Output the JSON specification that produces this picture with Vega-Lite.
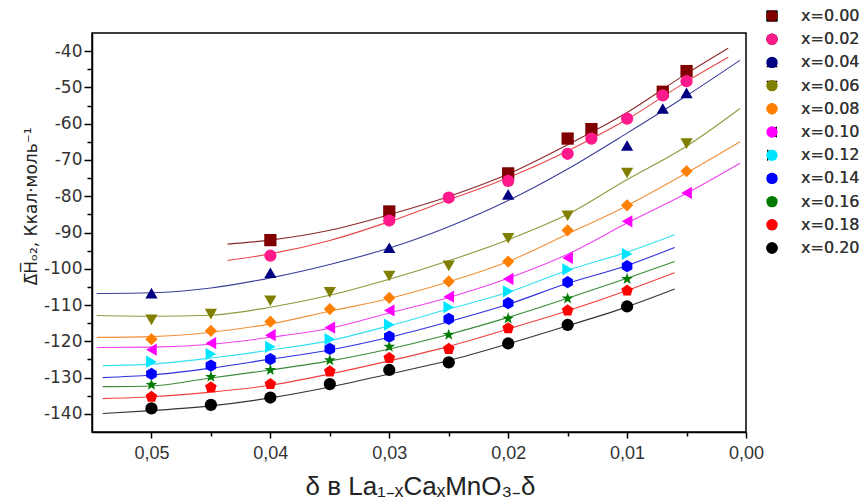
{
  "$schema": "https://vega.github.io/schema/vega-lite/v6.json",
  "width": 654,
  "height": 399,
  "autosize": "none",
  "padding": {"left": 92, "top": 33, "right": 117, "bottom": 72},
  "background": "white",
  "config": {
    "view": {"stroke": "black", "strokeWidth": 1.5},
    "font": "Liberation Sans",
    "legend": {
      "orient": "none", "legendX": 672, "legendY": -25, "title": null,
      "labelFontSize": 16, "labelFont": "DejaVu Sans", "labelColor": "#333",
      "symbolSize": 130, "labelOffset": 21, "rowPadding": 7.2, "padding": 0,
      "symbolStrokeWidth": 0
    }
  },
  "datasets": {
    "points": [
      {"series":"x=0.00","d":0.04,"H":-92.1},{"series":"x=0.00","d":0.03,"H":-84.2},{"series":"x=0.00","d":0.02,"H":-73.7},{"series":"x=0.00","d":0.015,"H":-64.1},{"series":"x=0.00","d":0.013,"H":-61.5},{"series":"x=0.00","d":0.007,"H":-51.2},{"series":"x=0.00","d":0.005,"H":-45.5},
      {"series":"x=0.02","d":0.04,"H":-96.4},{"series":"x=0.02","d":0.03,"H":-86.7},{"series":"x=0.02","d":0.025,"H":-80.4},{"series":"x=0.02","d":0.02,"H":-75.8},{"series":"x=0.02","d":0.015,"H":-68.3},{"series":"x=0.02","d":0.013,"H":-64.1},{"series":"x=0.02","d":0.01,"H":-58.6},{"series":"x=0.02","d":0.007,"H":-52.2},{"series":"x=0.02","d":0.005,"H":-48.3},
      {"series":"x=0.04","d":0.05,"H":-106.7},{"series":"x=0.04","d":0.04,"H":-101.1},{"series":"x=0.04","d":0.03,"H":-94.2},{"series":"x=0.04","d":0.02,"H":-79.5},{"series":"x=0.04","d":0.01,"H":-66.0},{"series":"x=0.04","d":0.007,"H":-55.8},{"series":"x=0.04","d":0.005,"H":-51.5},
      {"series":"x=0.06","d":0.05,"H":-114.1},{"series":"x=0.06","d":0.045,"H":-112.5},{"series":"x=0.06","d":0.04,"H":-108.8},{"series":"x=0.06","d":0.035,"H":-106.5},{"series":"x=0.06","d":0.03,"H":-102.0},{"series":"x=0.06","d":0.025,"H":-99.2},{"series":"x=0.06","d":0.02,"H":-91.6},{"series":"x=0.06","d":0.015,"H":-85.4},{"series":"x=0.06","d":0.01,"H":-73.6},{"series":"x=0.06","d":0.005,"H":-65.5},
      {"series":"x=0.08","d":0.05,"H":-119.4},{"series":"x=0.08","d":0.045,"H":-117.1},{"series":"x=0.08","d":0.04,"H":-114.6},{"series":"x=0.08","d":0.035,"H":-111.1},{"series":"x=0.08","d":0.03,"H":-108.0},{"series":"x=0.08","d":0.025,"H":-103.5},{"series":"x=0.08","d":0.02,"H":-98.0},{"series":"x=0.08","d":0.015,"H":-89.4},{"series":"x=0.08","d":0.01,"H":-82.5},{"series":"x=0.08","d":0.005,"H":-73.1},
      {"series":"x=0.10","d":0.05,"H":-122.3},{"series":"x=0.10","d":0.045,"H":-120.5},{"series":"x=0.10","d":0.04,"H":-118.3},{"series":"x=0.10","d":0.035,"H":-116.2},{"series":"x=0.10","d":0.03,"H":-111.5},{"series":"x=0.10","d":0.025,"H":-107.7},{"series":"x=0.10","d":0.02,"H":-102.8},{"series":"x=0.10","d":0.015,"H":-97.0},{"series":"x=0.10","d":0.01,"H":-86.9},{"series":"x=0.10","d":0.005,"H":-79.1},
      {"series":"x=0.12","d":0.05,"H":-125.6},{"series":"x=0.12","d":0.045,"H":-123.5},{"series":"x=0.12","d":0.04,"H":-121.5},{"series":"x=0.12","d":0.035,"H":-119.4},{"series":"x=0.12","d":0.03,"H":-115.4},{"series":"x=0.12","d":0.025,"H":-110.6},{"series":"x=0.12","d":0.02,"H":-106.2},{"series":"x=0.12","d":0.015,"H":-100.2},{"series":"x=0.12","d":0.01,"H":-95.9},
      {"series":"x=0.14","d":0.05,"H":-129.0},{"series":"x=0.14","d":0.045,"H":-126.7},{"series":"x=0.14","d":0.04,"H":-124.9},{"series":"x=0.14","d":0.035,"H":-122.1},{"series":"x=0.14","d":0.03,"H":-118.7},{"series":"x=0.14","d":0.025,"H":-113.8},{"series":"x=0.14","d":0.02,"H":-109.5},{"series":"x=0.14","d":0.015,"H":-103.7},{"series":"x=0.14","d":0.01,"H":-99.3},
      {"series":"x=0.16","d":0.05,"H":-132.0},{"series":"x=0.16","d":0.045,"H":-129.8},{"series":"x=0.16","d":0.04,"H":-127.9},{"series":"x=0.16","d":0.035,"H":-125.2},{"series":"x=0.16","d":0.03,"H":-121.5},{"series":"x=0.16","d":0.025,"H":-118.2},{"series":"x=0.16","d":0.02,"H":-113.7},{"series":"x=0.16","d":0.015,"H":-108.2},{"series":"x=0.16","d":0.01,"H":-102.8},
      {"series":"x=0.18","d":0.05,"H":-135.3},{"series":"x=0.18","d":0.045,"H":-132.7},{"series":"x=0.18","d":0.04,"H":-131.8},{"series":"x=0.18","d":0.035,"H":-128.3},{"series":"x=0.18","d":0.03,"H":-124.6},{"series":"x=0.18","d":0.025,"H":-122.1},{"series":"x=0.18","d":0.02,"H":-116.4},{"series":"x=0.18","d":0.015,"H":-111.5},{"series":"x=0.18","d":0.01,"H":-106.0},
      {"series":"x=0.20","d":0.05,"H":-138.5},{"series":"x=0.20","d":0.045,"H":-137.5},{"series":"x=0.20","d":0.04,"H":-135.5},{"series":"x=0.20","d":0.035,"H":-131.8},{"series":"x=0.20","d":0.03,"H":-127.9},{"series":"x=0.20","d":0.025,"H":-125.8},{"series":"x=0.20","d":0.02,"H":-120.6},{"series":"x=0.20","d":0.015,"H":-115.5},{"series":"x=0.20","d":0.01,"H":-110.4}
    ],
    "curves": [
      {"series":"x=0.00","d":0.0436,"H":-93.2},{"series":"x=0.00","d":0.04,"H":-92.1},{"series":"x=0.00","d":0.035,"H":-89.4},{"series":"x=0.00","d":0.03,"H":-85.1},{"series":"x=0.00","d":0.025,"H":-80.1},{"series":"x=0.00","d":0.02,"H":-73.9},{"series":"x=0.00","d":0.015,"H":-65.8},{"series":"x=0.00","d":0.01,"H":-56.9},{"series":"x=0.00","d":0.005,"H":-46.2},{"series":"x=0.00","d":0.0015,"H":-39.2},
      {"series":"x=0.02","d":0.0436,"H":-97.7},{"series":"x=0.02","d":0.04,"H":-95.9},{"series":"x=0.02","d":0.035,"H":-92.2},{"series":"x=0.02","d":0.03,"H":-87.0},{"series":"x=0.02","d":0.025,"H":-81.0},{"series":"x=0.02","d":0.02,"H":-74.9},{"series":"x=0.02","d":0.015,"H":-67.5},{"series":"x=0.02","d":0.01,"H":-58.8},{"series":"x=0.02","d":0.005,"H":-48.4},{"series":"x=0.02","d":0.0015,"H":-41.7},
      {"series":"x=0.04","d":0.0546,"H":-106.8},{"series":"x=0.04","d":0.05,"H":-106.6},{"series":"x=0.04","d":0.045,"H":-105.3},{"series":"x=0.04","d":0.04,"H":-102.5},{"series":"x=0.04","d":0.035,"H":-98.8},{"series":"x=0.04","d":0.03,"H":-94.3},{"series":"x=0.04","d":0.025,"H":-88.4},{"series":"x=0.04","d":0.02,"H":-81.2},{"series":"x=0.04","d":0.015,"H":-72.5},{"series":"x=0.04","d":0.01,"H":-62.6},{"series":"x=0.04","d":0.005,"H":-52.3},{"series":"x=0.04","d":0.0005,"H":-42.5},
      {"series":"x=0.06","d":0.0546,"H":-112.9},{"series":"x=0.06","d":0.05,"H":-113.1},{"series":"x=0.06","d":0.045,"H":-112.8},{"series":"x=0.06","d":0.04,"H":-110.6},{"series":"x=0.06","d":0.035,"H":-107.3},{"series":"x=0.06","d":0.03,"H":-102.9},{"series":"x=0.06","d":0.025,"H":-97.8},{"series":"x=0.06","d":0.02,"H":-92.0},{"series":"x=0.06","d":0.015,"H":-85.0},{"series":"x=0.06","d":0.01,"H":-75.4},{"series":"x=0.06","d":0.005,"H":-66.2},{"series":"x=0.06","d":0.0005,"H":-55.8},
      {"series":"x=0.08","d":0.0546,"H":-118.9},{"series":"x=0.08","d":0.05,"H":-118.7},{"series":"x=0.08","d":0.045,"H":-117.5},{"series":"x=0.08","d":0.04,"H":-115.2},{"series":"x=0.08","d":0.035,"H":-111.7},{"series":"x=0.08","d":0.03,"H":-108.2},{"series":"x=0.08","d":0.025,"H":-103.6},{"series":"x=0.08","d":0.02,"H":-98.0},{"series":"x=0.08","d":0.015,"H":-90.4},{"series":"x=0.08","d":0.01,"H":-82.6},{"series":"x=0.08","d":0.005,"H":-73.6},{"series":"x=0.08","d":0.0005,"H":-65.0},
      {"series":"x=0.10","d":0.0546,"H":-121.7},{"series":"x=0.10","d":0.05,"H":-121.6},{"series":"x=0.10","d":0.045,"H":-120.8},{"series":"x=0.10","d":0.04,"H":-118.9},{"series":"x=0.10","d":0.035,"H":-116.4},{"series":"x=0.10","d":0.03,"H":-112.2},{"series":"x=0.10","d":0.025,"H":-107.9},{"series":"x=0.10","d":0.02,"H":-102.6},{"series":"x=0.10","d":0.015,"H":-96.0},{"series":"x=0.10","d":0.01,"H":-87.4},{"series":"x=0.10","d":0.005,"H":-79.2},{"series":"x=0.10","d":0.0005,"H":-70.9},
      {"series":"x=0.12","d":0.0541,"H":-126.7},{"series":"x=0.12","d":0.05,"H":-126.3},{"series":"x=0.12","d":0.045,"H":-124.6},{"series":"x=0.12","d":0.04,"H":-122.4},{"series":"x=0.12","d":0.035,"H":-119.8},{"series":"x=0.12","d":0.03,"H":-115.7},{"series":"x=0.12","d":0.025,"H":-111.1},{"series":"x=0.12","d":0.02,"H":-106.5},{"series":"x=0.12","d":0.015,"H":-100.4},{"series":"x=0.12","d":0.01,"H":-95.4},{"series":"x=0.12","d":0.006,"H":-90.6},
      {"series":"x=0.14","d":0.0541,"H":-130.0},{"series":"x=0.14","d":0.05,"H":-129.3},{"series":"x=0.14","d":0.045,"H":-127.4},{"series":"x=0.14","d":0.04,"H":-124.9},{"series":"x=0.14","d":0.035,"H":-122.4},{"series":"x=0.14","d":0.03,"H":-118.9},{"series":"x=0.14","d":0.025,"H":-114.6},{"series":"x=0.14","d":0.02,"H":-109.8},{"series":"x=0.14","d":0.015,"H":-104.0},{"series":"x=0.14","d":0.01,"H":-99.1},{"series":"x=0.14","d":0.006,"H":-94.1},
      {"series":"x=0.16","d":0.0541,"H":-132.5},{"series":"x=0.16","d":0.05,"H":-132.3},{"series":"x=0.16","d":0.045,"H":-130.1},{"series":"x=0.16","d":0.04,"H":-127.9},{"series":"x=0.16","d":0.035,"H":-125.4},{"series":"x=0.16","d":0.03,"H":-122.1},{"series":"x=0.16","d":0.025,"H":-118.1},{"series":"x=0.16","d":0.02,"H":-113.4},{"series":"x=0.16","d":0.015,"H":-108.1},{"series":"x=0.16","d":0.01,"H":-102.6},{"series":"x=0.16","d":0.006,"H":-98.0},
      {"series":"x=0.18","d":0.0541,"H":-135.8},{"series":"x=0.18","d":0.05,"H":-135.3},{"series":"x=0.18","d":0.045,"H":-134.0},{"series":"x=0.18","d":0.04,"H":-132.1},{"series":"x=0.18","d":0.035,"H":-129.0},{"series":"x=0.18","d":0.03,"H":-125.4},{"series":"x=0.18","d":0.025,"H":-121.4},{"series":"x=0.18","d":0.02,"H":-116.6},{"series":"x=0.18","d":0.015,"H":-111.6},{"series":"x=0.18","d":0.01,"H":-106.0},{"series":"x=0.18","d":0.006,"H":-101.1},
      {"series":"x=0.20","d":0.0541,"H":-139.9},{"series":"x=0.20","d":0.05,"H":-139.1},{"series":"x=0.20","d":0.045,"H":-137.8},{"series":"x=0.20","d":0.04,"H":-135.6},{"series":"x=0.20","d":0.035,"H":-132.6},{"series":"x=0.20","d":0.03,"H":-129.0},{"series":"x=0.20","d":0.025,"H":-125.3},{"series":"x=0.20","d":0.02,"H":-120.7},{"series":"x=0.20","d":0.015,"H":-115.7},{"series":"x=0.20","d":0.01,"H":-110.5},{"series":"x=0.20","d":0.006,"H":-105.6}
    ]
  },
  "encoding": {
    "x": {
      "field": "d", "type": "quantitative",
      "scale": {"domain": [0, 0.055], "reverse": true, "nice": false, "zero": false},
      "axis": {
        "title": "δ в La₁₋ₓCaₓMnO₃₋δ",
        "values": [0.05, 0.045, 0.04, 0.035, 0.03, 0.025, 0.02, 0.015, 0.01, 0.005, 0],
        "labelExpr": "round(datum.value*1000) % 10 === 0 ? replace(format(datum.value, '.2f'), '.', ',') : ''",
        "tickSize": {"condition": {"test": "round(datum.value*1000) % 10 === 0", "value": 6}, "value": 4},
        "grid": false, "domainColor": "black", "domainWidth": 1.5,
        "tickColor": "black", "tickWidth": 1.5,
        "labelFontSize": 18, "labelFont": "Liberation Sans", "labelColor": "#333", "labelPadding": 6,
        "labelOverlap": false, "labelFlush": false,
        "titleFontSize": 26, "titleFontWeight": "normal", "titleColor": "#222",
        "titleX": 328, "titleY": 62, "titleBaseline": "alphabetic"
      }
    },
    "y": {
      "field": "H", "type": "quantitative",
      "scale": {"domain": [-145, -35], "nice": false, "zero": false},
      "axis": {
        "title": "Δ̅H̅ₒ₂, Ккал·моль⁻¹",
        "values": [-140, -135, -130, -125, -120, -115, -110, -105, -100, -95, -90, -85, -80, -75, -70, -65, -60, -55, -50, -45, -40],
        "labelExpr": "datum.value % 10 === 0 ? '-' + abs(datum.value) : ''",
        "tickSize": {"condition": {"test": "datum.value % 10 === 0", "value": 8}, "value": 5},
        "grid": false, "domainColor": "black", "domainWidth": 1.5,
        "tickColor": "black", "tickWidth": 1.5,
        "labelFontSize": 17, "labelFont": "DejaVu Sans", "labelColor": "#333", "labelPadding": 2,
        "labelOverlap": false,
        "titleFontSize": 17, "titleFontWeight": "normal", "titleColor": "#222", "titleFont": "DejaVu Sans",
        "titleX": -56, "titleY": 173, "titleBaseline": "alphabetic", "titleAlign": "center"
      }
    }
  },
  "layer": [
    {
      "data": {"name": "curves"},
      "mark": {"type": "line", "strokeWidth": 1.1, "interpolate": "monotone"},
      "encoding": {
        "color": {
          "field": "series", "type": "nominal", "legend": null,
          "scale": {
            "domain": ["x=0.00","x=0.02","x=0.04","x=0.06","x=0.08","x=0.10","x=0.12","x=0.14","x=0.16","x=0.18","x=0.20"],
            "range": ["#8b2a2a","#e8474a","#3a3f9a","#8c9a3c","#f0903a","#ee44ee","#33e0f0","#3030e0","#3a8a3a","#f04040","#333333"]
          }
        }
      }
    },
    {
      "data": {"name": "points"},
      "mark": {"type": "point", "filled": true, "size": 150, "opacity": 1, "strokeWidth": 0},
      "encoding": {
        "color": {
          "field": "series", "type": "nominal",
          "scale": {
            "domain": ["x=0.00","x=0.02","x=0.04","x=0.06","x=0.08","x=0.10","x=0.12","x=0.14","x=0.16","x=0.18","x=0.20"],
            "range": ["#800000","#ff1a8c","#000080","#808000","#ff8000","#ff00ff","#00e5ff","#0000ff","#007a00","#ff0000","#000000"]
          }
        },
        "shape": {
          "field": "series", "type": "nominal",
          "scale": {
            "domain": ["x=0.00","x=0.02","x=0.04","x=0.06","x=0.08","x=0.10","x=0.12","x=0.14","x=0.16","x=0.18","x=0.20"],
            "range": ["square","circle","triangle-up","triangle-down","diamond","triangle-left","triangle-right",
              "M0,-1L0.866,-0.5L0.866,0.5L0,1L-0.866,0.5L-0.866,-0.5Z",
              "M0,-1L0.235,-0.324L0.951,-0.309L0.380,0.124L0.588,0.809L0,0.4L-0.588,0.809L-0.380,0.124L-0.951,-0.309L-0.235,-0.324Z",
              "M0,-1L0.951,-0.309L0.588,0.809L-0.588,0.809L-0.951,-0.309Z",
              "circle"]
          }
        }
      }
    }
  ],
  "resolve": {"scale": {"color": "independent"}}
}
